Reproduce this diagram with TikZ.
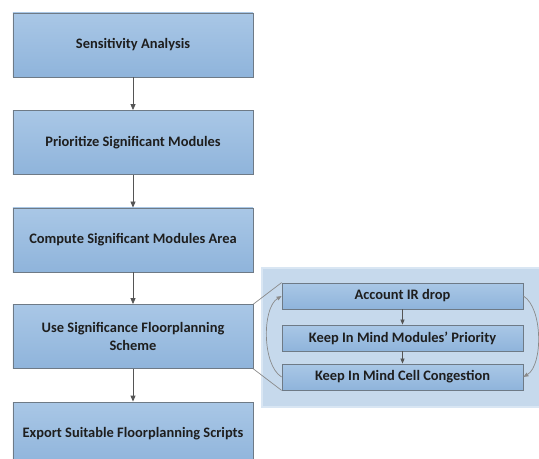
\documentclass[tikz,border=0pt]{standalone}
\usepackage{fontspec}
\setmainfont{Carlito}
\usetikzlibrary{arrows.meta}
\definecolor{boxtop}{HTML}{A9C7E6}
\definecolor{boxbot}{HTML}{8FB4DB}
\definecolor{boxline}{HTML}{6E7A86}
\definecolor{panelfill}{HTML}{C6D9EC}
\definecolor{paneledge}{HTML}{D9E6F3}
\definecolor{arrowc}{HTML}{555555}
\definecolor{linkc}{HTML}{8A8A8A}
\definecolor{textc}{HTML}{1E1E1E}
\begin{document}
\begin{tikzpicture}[x=1bp,y=-1bp,
  stepbox/.style={draw=boxline, line width=0.8bp, top color=boxtop, bottom color=boxbot,
    minimum width=240bp, minimum height=64bp, inner sep=0pt, align=center,
    text=textc, font=\bfseries\fontsize{14.5}{18}\selectfont},
  subbox/.style={stepbox, minimum width=241bp, minimum height=26bp},
  flow/.style={draw=arrowc, line width=0.8bp, -{Triangle[length=6bp,width=5bp]}},
  loop/.style={draw=linkc, line width=0.7bp, -{Triangle[length=5bp,width=4bp]}},
  link/.style={draw=linkc, line width=0.7bp}]
\useasboundingbox (0,0) rectangle (539,459);
\clip (0,0) rectangle (539,459);

% main flow
\node[stepbox] (s1) at (133,45)    {Sensitivity Analysis};
\node[stepbox] (s2) at (133,142.5) {Prioritize Significant Modules};
\node[stepbox] (s3) at (133,240)   {Compute Significant Modules Area};
\node[stepbox] (s4) at (133,336.5) {Use Significance Floorplanning\\Scheme};
\node[stepbox] (s5) at (133,434)   {Export Suitable Floorplanning Scripts};

\draw[flow] (s1) -- (s2);
\draw[flow] (s2) -- (s3);
\draw[flow] (s3) -- (s4);
\draw[flow] (s4) -- (s5);

% detail panel
\fill[panelfill, draw=paneledge, line width=2bp] (262,268) rectangle (545,407);
\node[subbox] (a) at (402.5,296) {Account IR drop};
\node[subbox] (b) at (402.5,338) {Keep In Mind Modules’ Priority};
\node[subbox] (c) at (402.5,377) {Keep In Mind Cell Congestion};

\draw[flow, line width=0.7bp, -{Triangle[length=5bp,width=4bp]}] (a) -- (b);
\draw[flow, line width=0.7bp, -{Triangle[length=5bp,width=4bp]}] (b) -- (c);

\draw[loop] (c.west) .. controls (262,365) and (262,308) .. (a.west);
\draw[loop] (a.east) .. controls (543,308) and (543,365) .. (c.east);

\draw[link] (s4.north east) -- (a.north west);
\draw[link] (s4.south east) -- (c.south west);
\end{tikzpicture}
\end{document}
